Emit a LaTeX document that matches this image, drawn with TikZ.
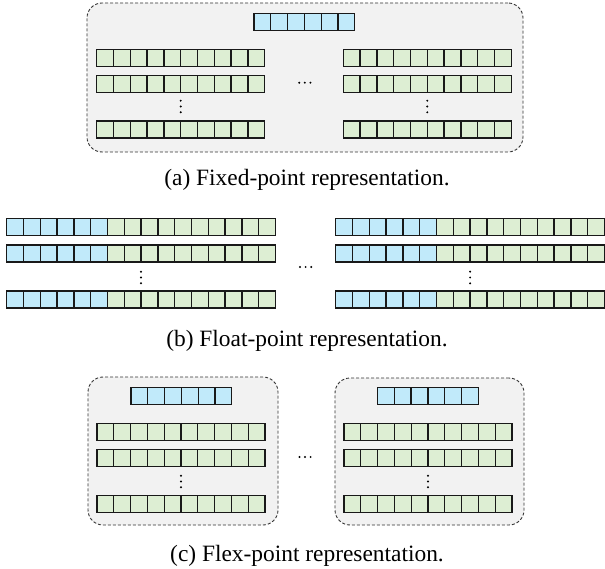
\documentclass[tikz,border=0pt]{standalone}
\usepackage{fontspec}
\setmainfont{Liberation Serif}
\definecolor{bitblue}{RGB}{193,234,250}
\definecolor{bitgreen}{RGB}{221,238,211}
\definecolor{boxgray}{RGB}{242,242,242}
% a run of #5 equal cells in style #1, named #2<k>, top-left corner at (#3,#4)
\newcommand{\cellrun}[5]{%
  \foreach \k in {1,...,#5} {
    \node[#1] (#2\k) at ({#3+(\k-1)*16.8}, #4) {};
  }}
% three stacked dots centred on (#1,#2)
\newcommand{\vdotsat}[2]{%
  \fill ({#1},{#2-5.8}) circle (1.1pt) ({#1},{#2}) circle (1.1pt) ({#1},{#2+5.8}) circle (1.1pt);}
% three dots in a row centred on (#1,#2)
\newcommand{\hdotsat}[2]{%
  \fill ({#1-5.6},{#2}) circle (1.1pt) ({#1},{#2}) circle (1.1pt) ({#1+5.6},{#2}) circle (1.1pt);}
\begin{document}
\begin{tikzpicture}[x=1pt,y=-1pt,
  cell/.style={draw=black!90, line width=1.3pt, minimum width=16.8pt, minimum height=17pt,
    inner sep=0pt, outer sep=0pt, anchor=north west},
  bluecell/.style={cell, fill=bitblue},
  greencell/.style={cell, fill=bitgreen},
  groupbox/.style={draw=black!80, dash pattern=on 3pt off 2pt, line width=0.9pt, fill=boxgray,
    rounded corners=15pt, inner sep=0pt, outer sep=0pt, anchor=north west},
  caption/.style={font=\fontsize{23.4}{28}\selectfont, anchor=base, inner sep=0pt}]
\useasboundingbox[fill=white] (0,0) rectangle (605,569);

% ---------- (a) fixed point: one shared exponent for all values ----------
\node[groupbox, minimum width=436pt, minimum height=149pt] (boxA) at (87,3) {};
\cellrun{bluecell}{aE-}{254}{13.5}{6}
\cellrun{greencell}{aL1-}{96.7}{49.5}{10}
\cellrun{greencell}{aL2-}{96.7}{75.5}{10}
\cellrun{greencell}{aL3-}{96.7}{121}{10}
\cellrun{greencell}{aR1-}{343.3}{49.5}{10}
\cellrun{greencell}{aR2-}{343.3}{75.5}{10}
\cellrun{greencell}{aR3-}{343.3}{121}{10}
\vdotsat{180.7}{106.5}
\vdotsat{427.3}{106.5}
\hdotsat{304.8}{82.7}
\node[caption] (capA) at (307,186) {(a) Fixed-point representation.};

% ---------- (b) floating point: exponent stored with every value ----------
\foreach \r/\y in {1/218.5, 2/245, 3/291} {
  \cellrun{bluecell}{bLe\r-}{6.7}{\y}{6}
  \cellrun{greencell}{bLm\r-}{107.5}{\y}{10}
  \cellrun{bluecell}{bRe\r-}{335.7}{\y}{6}
  \cellrun{greencell}{bRm\r-}{436.5}{\y}{10}
}
\vdotsat{141}{277.5}
\vdotsat{470.1}{277.5}
\hdotsat{305.6}{267}
\node[caption] (capB) at (307,346) {(b) Float-point representation.};

% ---------- (c) flex point: one exponent per block ----------
\node[groupbox, minimum width=190pt, minimum height=148pt] (boxCL) at (88,377) {};
\node[groupbox, minimum width=189pt, minimum height=147pt] (boxCR) at (335,378) {};
\cellrun{bluecell}{cLE-}{131}{387.5}{6}
\cellrun{greencell}{cL1-}{97}{423.5}{10}
\cellrun{greencell}{cL2-}{97}{449.5}{10}
\cellrun{greencell}{cL3-}{97}{495.5}{10}
\cellrun{bluecell}{cRE-}{377.5}{387.5}{6}
\cellrun{greencell}{cR1-}{344}{423.5}{10}
\cellrun{greencell}{cR2-}{344}{449.5}{10}
\cellrun{greencell}{cR3-}{344}{495.5}{10}
\vdotsat{181}{481.5}
\vdotsat{428}{481.5}
\hdotsat{305}{457}
\node[caption] (capC) at (307,561) {(c) Flex-point representation.};
\end{tikzpicture}
\end{document}
